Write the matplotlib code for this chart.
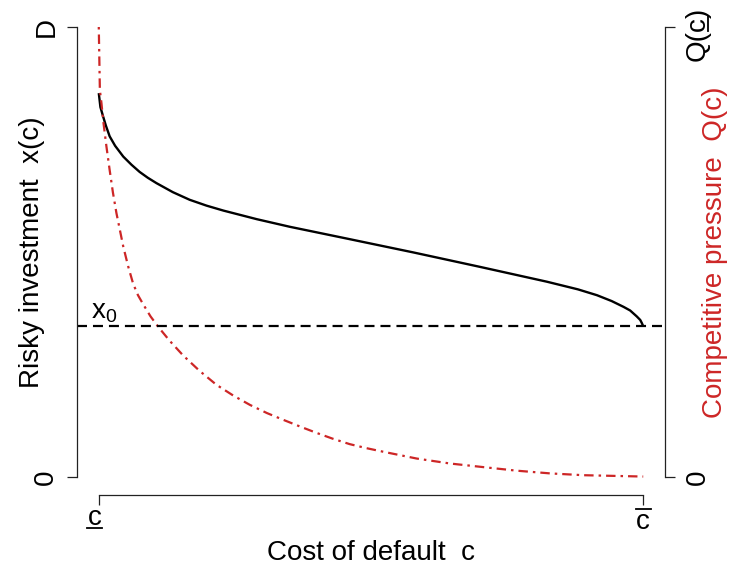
import matplotlib
matplotlib.use('Agg')
import matplotlib.pyplot as plt
from matplotlib import transforms
from matplotlib.lines import Line2D
from matplotlib.transforms import IdentityTransform

plt.rcParams['font.family'] = ['Liberation Sans', 'DejaVu Sans']
plt.rcParams['mathtext.fontset'] = 'custom'
plt.rcParams['mathtext.rm'] = 'Liberation Sans'
plt.rcParams['mathtext.it'] = 'Liberation Sans'
plt.rcParams['lines.scale_dashes'] = False

# ---- data (normalised: c in [c_low, c_high] -> [0, 1]; y in [0, D] -> [0, 1]) ----
c_x = [0.0, 0.003, 0.008, 0.013, 0.020, 0.030, 0.045, 0.060, 0.075, 0.090,
       0.106, 0.136, 0.167, 0.198, 0.229, 0.290, 0.351, 0.455, 0.578, 0.700,
       0.823, 0.880, 0.915, 0.942, 0.964, 0.976, 0.988, 0.9945, 0.9975, 1.0]
x_vals = [0.853, 0.822, 0.801, 0.781, 0.757, 0.736, 0.712, 0.694, 0.678, 0.665,
          0.653, 0.633, 0.616, 0.603, 0.592, 0.573, 0.556, 0.530, 0.499, 0.467,
          0.434, 0.417, 0.404, 0.391, 0.378, 0.370, 0.357, 0.349, 0.342, 0.335]

c_q = [0.0, 0.002, 0.005, 0.008, 0.014, 0.020, 0.026, 0.0325, 0.045, 0.054,
       0.063, 0.072, 0.081, 0.095, 0.109, 0.130, 0.155, 0.185, 0.216, 0.247,
       0.278, 0.309, 0.339, 0.370, 0.400, 0.430, 0.461, 0.492, 0.523, 0.584,
       0.645, 0.706, 0.768, 0.829, 0.890, 1.0]
q_vals = [1.0, 0.86, 0.83, 0.793, 0.735, 0.682, 0.632, 0.586, 0.512, 0.468,
          0.430, 0.404, 0.385, 0.357, 0.334, 0.303, 0.270, 0.236, 0.205, 0.181,
          0.160, 0.142, 0.127, 0.112, 0.098, 0.085, 0.073, 0.064, 0.056, 0.041,
          0.030, 0.022, 0.014, 0.008, 0.004, 0.001]

x0 = 0.335

xtick_pos = [0, 1]
xtick_labels = ['c', 'c']          # underlined c, overlined c
xtick_deco = ['under', 'over']
ytick_pos = [0, 1]
ytick_left = ['0', 'D']
ytick_right = ['0', 'Q(c)']        # Q(underlined c)

RED = '#CD2626'
AXC = '#222222'
FS = 20
PX = 0.72  # points per pixel at 100 dpi

fig = plt.figure(figsize=(7.29, 5.67), dpi=100)
ax = fig.add_axes([77 / 729, 72 / 567, 588 / 729, 486 / 567])
ax.set_xlim(-0.04, 1.04)
ax.set_ylim(-0.04, 1.04)

ax.plot(c_x, x_vals, color='black', lw=1.7, solid_capstyle='butt')
ax.plot(c_q, q_vals, color=RED, lw=1.6, linestyle=(0, (1.8, 3.6, 6.8, 3.6)))
ax.axhline(x0, color='black', lw=1.6, linestyle=(0, (7.2, 4.3)))
ax.text(-0.0147, x0 + 0.018, r'$\mathregular{x_0}$', fontsize=FS, ha='left', va='baseline')

for s in ['top', 'right']:
    ax.spines[s].set_visible(False)
ax.spines['left'].set_bounds(0, 1)
ax.spines['bottom'].set_bounds(0, 1)
for s in ['left', 'bottom']:
    ax.spines[s].set_color(AXC)
    ax.spines[s].set_linewidth(0.9)

ax.set_xticks(xtick_pos)
ax.set_xticklabels([])
ax.set_yticks(ytick_pos)
ax.set_yticklabels(ytick_left, fontsize=FS, rotation=90, va='center')
ax.tick_params(axis='both', direction='out', length=7.2, width=0.9, color=AXC)
ax.tick_params(axis='y', pad=5.5)

# x tick labels as texts under the ticks (baseline offsets in pixels)
bottom_texts = []
for xv, lab, dx, dy in zip(xtick_pos, xtick_labels, [-4, 0], [-30, -34]):
    tr = transforms.blended_transform_factory(ax.transData, ax.transAxes) + \
        transforms.ScaledTranslation(dx * PX / 72, dy * PX / 72, fig.dpi_scale_trans)
    bottom_texts.append(ax.text(xv, 0.0, lab, transform=tr, ha='center',
                                va='baseline', fontsize=FS))

ax.set_xlabel('Cost of default  c', fontsize=FS)
ax.xaxis.set_label_coords(0.5, -0.093)
ax.set_ylabel('Risky investment  x(c)', fontsize=FS)
ax.yaxis.set_label_coords(-0.0536, 0.5)

ax2 = ax.twinx()
ax2.set_ylim(-0.04, 1.04)
for s in ['top', 'left', 'bottom']:
    ax2.spines[s].set_visible(False)
ax2.spines['right'].set_bounds(0, 1)
ax2.spines['right'].set_color(AXC)
ax2.spines['right'].set_linewidth(0.9)
ax2.set_yticks(ytick_pos)
ax2.set_yticklabels([])
ax2.tick_params(axis='y', direction='out', length=7.2, width=0.9, color=AXC)
ax2.set_ylabel('Competitive pressure  Q(c)', fontsize=FS, color=RED)
ax2.yaxis.set_label_coords(1.063, 0.5)

# right tick labels placed as text beside the ticks
right_texts = []
for yv, lab, dy in zip(ytick_pos, ytick_right, [0, -5.0]):
    tr = transforms.blended_transform_factory(ax2.transAxes, ax2.transData) + \
        transforms.ScaledTranslation(14.4 / 72, dy / 72, fig.dpi_scale_trans)
    right_texts.append(ax2.text(1.0, yv, lab, transform=tr, rotation=90,
                                ha='left', va='center', fontsize=FS))

# ---- underline / overline decorations computed from the rendered text ----
fig.canvas.draw()
renderer = fig.canvas.get_renderer()


def add_line(xs, ys, lw=1.3):
    fig.add_artist(Line2D(xs, ys, transform=IdentityTransform(), color='black', lw=lw))


for lab, kind in zip(bottom_texts, xtick_deco):
    prop = lab.get_fontproperties()
    bb = lab.get_window_extent(renderer)
    _, _, d_lp = renderer.get_text_width_height_descent('lp', prop, ismath=False)
    wc, hc, dc = renderer.get_text_width_height_descent('c', prop, ismath=False)
    base = bb.y0 + d_lp
    xc = 0.5 * (bb.x0 + bb.x1)
    if kind == 'under':
        yl = base - 2.5
    else:
        yl = base + (hc - dc) + 5
    add_line([xc - wc / 2 - 0.5, xc + wc / 2 + 0.5], [yl, yl])

# underline the c inside Q(c) on the right axis (rotated 90 degrees)
t = right_texts[1]
prop = t.get_fontproperties()
bb = t.get_window_extent(renderer)
_, _, d_lp = renderer.get_text_width_height_descent('lp', prop, ismath=False)
w_c = renderer.get_text_width_height_descent('c', prop, ismath=False)[0]
w_qc = renderer.get_text_width_height_descent('Q(c', prop, ismath=False)[0]
base_x = bb.x1 - d_lp
xl = base_x + 2.5
add_line([xl, xl], [bb.y0 + w_qc - w_c - 0.5, bb.y0 + w_qc + 0.5])

fig.savefig('out.png', dpi=100)
